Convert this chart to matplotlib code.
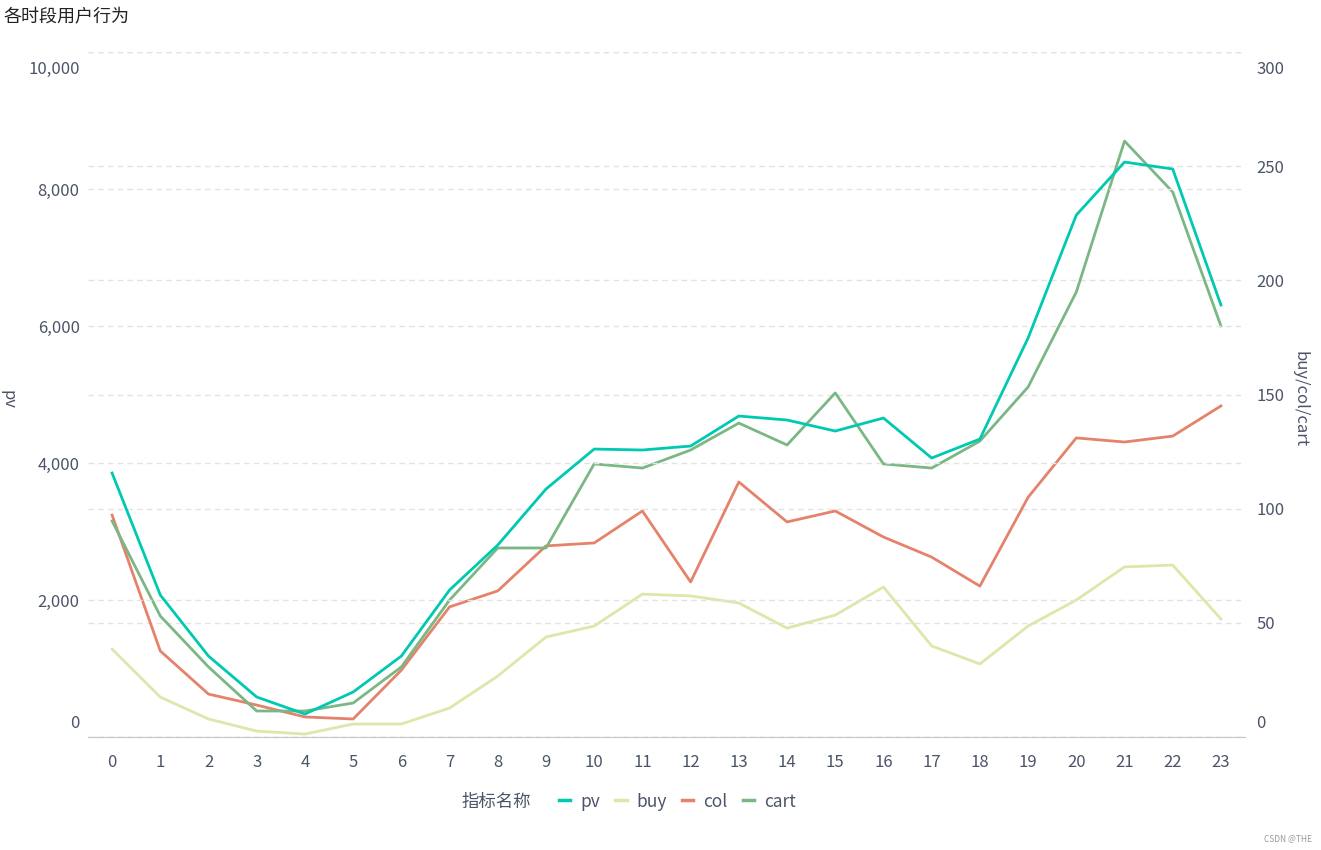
import matplotlib
matplotlib.use("Agg")
import matplotlib.pyplot as plt
from matplotlib.ticker import FuncFormatter
from matplotlib.transforms import ScaledTranslation
from matplotlib.lines import Line2D

plt.rcParams['font.family'] = ['Noto Sans CJK SC', 'DejaVu Sans']

hours = list(range(24))
pv = [3854, 2073, 1182, 584, 336, 657, 1182, 2146, 2803, 3620, 4204, 4190,
      4248, 4686, 4628, 4467, 4657, 4073, 4350, 5825, 7620, 8394, 8292, 6307]
buy = [38.5, 17.5, 7.9, 2.6, 1.3, 5.7, 5.7, 12.7, 26.7, 43.8, 48.6, 62.6,
       61.8, 58.7, 47.7, 53.4, 65.7, 39.9, 32.0, 48.6, 60.0, 74.5, 75.3, 51.7]
col = [97.2, 37.7, 18.8, 14.0, 8.8, 7.9, 29.3, 57.0, 64.0, 83.7, 85.0, 99.0,
       67.9, 111.7, 94.2, 99.0, 87.6, 78.8, 66.1, 105.0, 131.0, 129.2, 131.8, 145.0]
cart = [94.6, 53.0, 30.7, 11.4, 11.4, 14.9, 30.7, 60.0, 82.8, 82.8, 119.6, 117.8,
        125.7, 137.5, 127.9, 150.7, 119.6, 117.8, 129.6, 153.3, 194.9, 261.0, 238.7, 180.0]

left_ticks = [0, 2000, 4000, 6000, 8000, 10000]
right_ticks = [0, 50, 100, 150, 200, 250, 300]

c_pv, c_buy, c_col, c_cart = '#00c9b1', '#dfe6aa', '#e5826b', '#7bb785'
txt = '#4b5468'
grid_c = '#e3e3e3'

fig = plt.figure(figsize=(13.21, 8.5), dpi=100)
ax = fig.add_axes([0.0666, 0.1329, 0.8759, 0.8059])
ax2 = ax.twinx()

ax.plot(hours, pv, color=c_pv, lw=2.0, zorder=5)
ax2.plot(hours, buy, color=c_buy, lw=2.0)
ax2.plot(hours, col, color=c_col, lw=2.0)
ax2.plot(hours, cart, color=c_cart, lw=2.0)

ax.set_xlim(-0.5, 23.5)
ax.set_ylim(0, 10000)
ax2.set_ylim(0, 300)
ax.set_yticks(left_ticks)
ax2.set_yticks(right_ticks)
ax.set_xticks(hours)
ax.yaxis.set_major_formatter(FuncFormatter(lambda v, p: f'{int(v):,}'))

for a in (ax, ax2):
    for s in ('top', 'right', 'left'):
        a.spines[s].set_visible(False)
    a.spines['bottom'].set_color('#c8c8c8')
    a.tick_params(length=0, labelsize=12, labelcolor=txt)
    a.grid(axis='y', color=grid_c, ls=(0, (4, 3)), lw=1)
ax.tick_params(axis='y', pad=6)
ax2.tick_params(axis='y', pad=8)
ax.tick_params(axis='x', pad=12)
ax.set_zorder(ax2.get_zorder() + 1)
ax.patch.set_visible(False)

# shift the extreme labels inward like the original
for a in (ax, ax2):
    labs = a.get_yticklabels()
    labs[0].set_transform(labs[0].get_transform() + ScaledTranslation(0, 16 / 100, fig.dpi_scale_trans))
    labs[-1].set_transform(labs[-1].get_transform() + ScaledTranslation(0, -15 / 100, fig.dpi_scale_trans))

fig.text(0.003, 0.98, '各时段用户行为', fontsize=13, color='#222', va='center', ha='left')
fig.text(0.006, 0.53, 'pv', fontsize=12, color=txt, rotation=-90, va='center', ha='center')
fig.text(0.984, 0.53, 'buy/col/cart', fontsize=12, color=txt, rotation=-90, va='center', ha='center')

fig.text(0.3497, 0.057, '指标名称', fontsize=12.5, color=txt, va='center', ha='left')
handles = [Line2D([], [], color=c, lw=2.5) for c in (c_pv, c_buy, c_col, c_cart)]
fig.legend(handles, ['pv', 'buy', 'col', 'cart'], loc='center left',
           bbox_to_anchor=(0.4232, 0.057), ncol=4, frameon=False, fontsize=12.5,
           handlelength=0.65, handletextpad=0.55, columnspacing=0.9, borderpad=0,
           borderaxespad=0, labelcolor=txt)

fig.text(0.993, 0.013, 'CSDN @THE', fontsize=6, color='#999', ha='right', va='center')

fig.savefig('out.png', dpi=100)
